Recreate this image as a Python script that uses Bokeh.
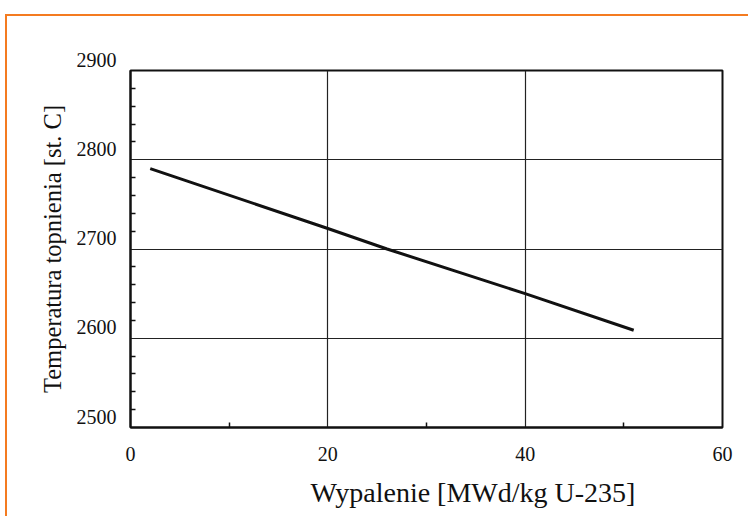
from bokeh.plotting import figure
from bokeh.models import Range1d, FixedTicker, Title
from bokeh.embed import file_html
from bokeh.resources import INLINE

# Data
burnup = [2, 20, 26, 40, 51]                   # MWd/kg U-235
melting_temp = [2790, 2723, 2700, 2650, 2609]  # st. C

x_ticks = [0, 20, 40, 60]
y_ticks = [2500, 2600, 2700, 2800, 2900]
x_minor = [10, 30, 50]
y_minor = [v for v in range(2500, 2901, 20) if v % 100 != 0]

FONT = "Liberation Serif"
ORANGE = "#F47B20"

p = figure(width=743, height=502, output_backend="svg", toolbar_location=None,
           x_range=Range1d(0, 60), y_range=Range1d(2500, 2900),
           min_border_left=123, min_border_right=28, min_border_top=54, min_border_bottom=91)
p.margin = (14, 0, 0, 5)
p.styles = {"border-left": f"2px solid {ORANGE}", "border-top": f"2px solid {ORANGE}"}

p.line(burnup, melting_temp, line_color="#111111", line_width=3)

p.outline_line_color = "#111111"
p.outline_line_width = 2
p.background_fill_color = "white"
p.border_fill_color = "white"

for g in (p.xgrid, p.ygrid):
    g.grid_line_color = "#222222"
    g.grid_line_width = 1.2
p.xgrid.ticker = FixedTicker(ticks=x_ticks)
p.ygrid.ticker = FixedTicker(ticks=y_ticks)

p.xaxis.ticker = FixedTicker(ticks=x_ticks, minor_ticks=x_minor)
p.yaxis.ticker = FixedTicker(ticks=y_ticks, minor_ticks=y_minor)

for ax in (p.xaxis[0], p.yaxis[0]):
    ax.axis_line_color = "#111111"
    ax.axis_line_width = 2
    ax.major_tick_in = 0
    ax.major_tick_out = 0
    ax.minor_tick_in = 5
    ax.minor_tick_out = 0
    ax.minor_tick_line_color = "#111111"
    ax.minor_tick_line_width = 1.5
    ax.major_label_text_font = FONT
    ax.major_label_text_font_size = "20px"
    ax.major_label_text_color = "#111111"
    ax.axis_label_text_font = FONT
    ax.axis_label_text_font_style = "normal"
    ax.axis_label_text_color = "#111111"

p.xaxis.major_label_standoff = 19
p.yaxis.major_label_standoff = 14
# labels sit just above their tick lines in the reference
p.yaxis.major_label_overrides = {v: f"{v}\n " for v in y_ticks}
p.yaxis.major_label_text_line_height = 1.0
p.yaxis.axis_label = "Temperatura topnienia [st. C]"
p.yaxis.axis_label_text_font_size = "24.5px"
p.yaxis.axis_label_standoff = 8

xt = Title(text="Wypalenie [MWd/kg U-235]", align="left", offset=180,
           text_font=FONT, text_font_size="28px", text_font_style="normal",
           text_color="#111111", standoff=22)
p.add_layout(xt, "below")

open("out.html", "w").write(file_html(p, INLINE))
